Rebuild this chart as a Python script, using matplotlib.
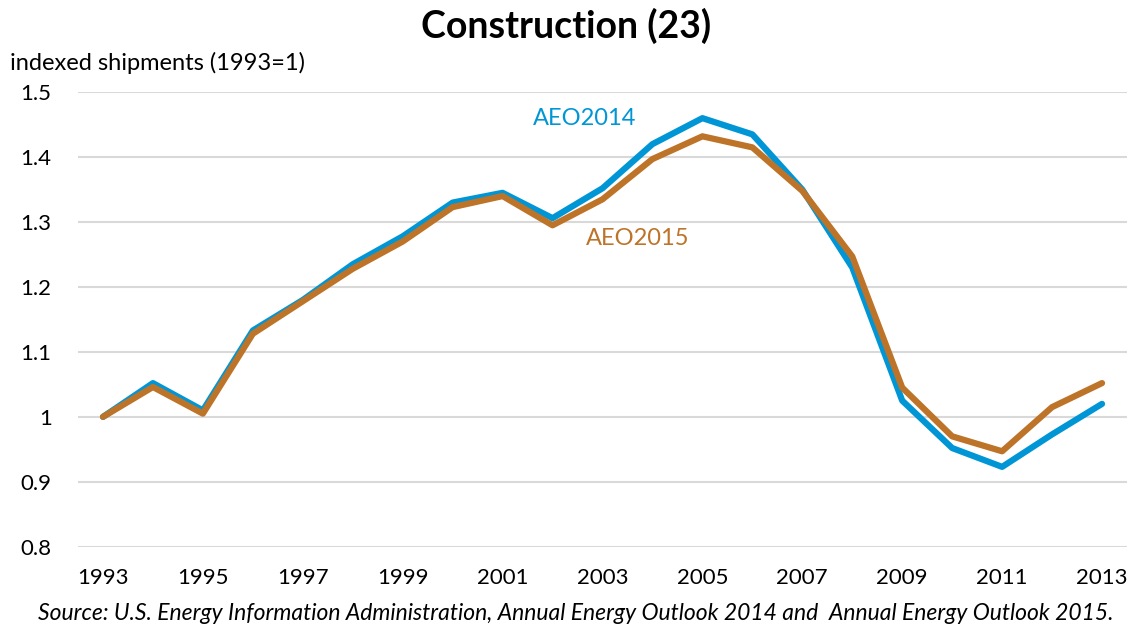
import matplotlib
matplotlib.use("Agg")
import matplotlib.pyplot as plt

years = list(range(1993, 2014))
aeo2014 = [1.000, 1.052, 1.010, 1.133, 1.180, 1.235, 1.278, 1.330, 1.345, 1.306,
           1.352, 1.420, 1.460, 1.435, 1.350, 1.230, 1.025, 0.952, 0.923, 0.973, 1.020]
aeo2015 = [1.000, 1.046, 1.005, 1.128, 1.178, 1.228, 1.270, 1.323, 1.340, 1.295,
           1.335, 1.397, 1.432, 1.415, 1.348, 1.247, 1.045, 0.970, 0.947, 1.015, 1.052]
yticks = [0.8, 0.9, 1.0, 1.1, 1.2, 1.3, 1.4, 1.5]
ytick_labels = ["0.8", "0.9", "1", "1.1", "1.2", "1.3", "1.4", "1.5"]
xticks = list(range(1993, 2014, 2))

blue = "#0096D6"
brown = "#BD7328"
font = ["Lato", "DejaVu Sans"]
plt.rcParams["font.family"] = font

fig = plt.figure(figsize=(11.33, 6.27), dpi=100)
ax = fig.add_axes([78 / 1133, 0.128, (1127 - 78) / 1133, 0.725])

ax.plot(years, aeo2014, color=blue, lw=4.5, solid_capstyle="round", zorder=3)
ax.plot(years, aeo2015, color=brown, lw=4.5, solid_capstyle="round", zorder=4)

ax.set_ylim(0.8, 1.5)
ax.set_xlim(1992.5, 2013.5)
ax.set_yticks(yticks)
ax.set_yticklabels(ytick_labels, fontsize=16)
ax.set_xticks(xticks)
ax.set_xticklabels([str(x) for x in xticks], fontsize=16)
ax.grid(axis="y", color="#D9D9D9", lw=1.5)
ax.set_axisbelow(True)
for s in ax.spines.values():
    s.set_visible(False)
ax.tick_params(length=0)
ax.tick_params(axis="y", pad=19)
ax.tick_params(axis="x", pad=15)

ax.text(2002.65, 1.46, "AEO2014", color=blue, fontsize=17, ha="center", va="center")
ax.text(2003.71, 1.275, "AEO2015", color=brown, fontsize=17, ha="center", va="center")

fig.text(0.5, 0.958, "Construction (23)", fontsize=27, fontweight="bold", ha="center", va="center")
fig.text(0.009, 0.9, "indexed shipments (1993=1)", fontsize=17, ha="left", va="center")
fig.text(0.508, 0.022, "Source: U.S. Energy Information Administration, Annual Energy Outlook 2014 and  Annual Energy Outlook 2015.",
         fontsize=16.5, style="italic", ha="center", va="center")

fig.savefig("out.png", dpi=100)
